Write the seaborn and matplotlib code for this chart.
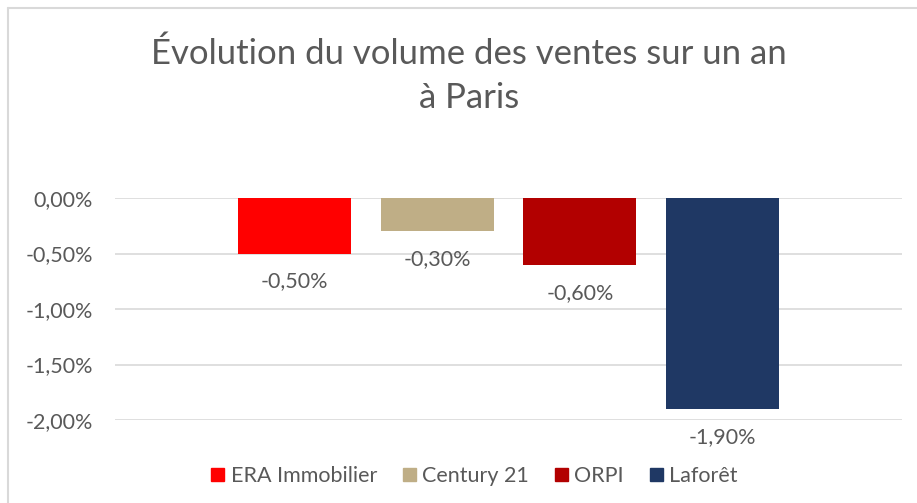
import matplotlib
matplotlib.use("Agg")
import matplotlib.pyplot as plt
import seaborn as sns
import pandas as pd
from matplotlib.ticker import FuncFormatter

# data
agences = ["ERA Immobilier", "Century 21", "ORPI", "Laforêt"]
evolution = [-0.50, -0.30, -0.60, -1.90]
couleurs = ["#FF0000", "#BFAE86", "#B20000", "#1F3864"]
yticks = [0.0, -0.5, -1.0, -1.5, -2.0]
titre = ["Évolution du volume des ventes sur un an", "à Paris"]

df = pd.DataFrame({"agence": agences, "evolution": evolution})

sns.set_theme(style="white")
plt.rcParams["font.family"] = ["Lato", "DejaVu Sans"]
gris = "#595959"

def pct(v):
    if abs(v) < 1e-9:
        v = 0.0
    return f"{v:.2f}%".replace(".", ",")

fig = plt.figure(figsize=(9.17, 5.03), dpi=100)
ax = fig.add_axes([115/917, 1 - 420/503, (902 - 115)/917, (420 - 198)/503])

sns.barplot(data=df, x="agence", y="evolution", hue="agence",
            palette=couleurs, saturation=1, width=0.79, linewidth=0,
            dodge=False, legend=True, ax=ax)

ax.set_xlim(-1.255, 4.255)
ax.set_ylim(-2.0, 0.0)
ax.set_yticks(yticks)
ax.yaxis.set_major_formatter(FuncFormatter(lambda v, p: pct(v)))
ax.set_xticks([])
ax.set_xlabel("")
ax.set_ylabel("")
ax.tick_params(axis="y", length=0, pad=16, labelsize=15.5, labelcolor=gris)
ax.grid(axis="y", color="#D9D9D9", linewidth=1.2)
ax.set_axisbelow(True)
for s in ax.spines.values():
    s.set_visible(False)

for c in ax.containers:
    ax.bar_label(c, fmt=pct, padding=13, fontsize=15.5, color=gris, clip_on=False)

# legende en bas, une ligne
handles = [plt.Rectangle((0, 0), 1, 1, color=c) for c in couleurs]
if ax.legend_ is not None:
    ax.legend_.remove()
fig.legend(handles, agences, loc="center", bbox_to_anchor=(474.5/917, 1 - 476/503),
           ncol=4, frameon=False, fontsize=15.5, labelcolor=gris,
           handlelength=0.6, handleheight=0.6, handletextpad=0.3,
           columnspacing=1.2)

# titre sur deux lignes
fig.text(469/917, 1 - 64/503, titre[0], ha="center", va="baseline",
         fontsize=25, color=gris)
fig.text(469/917, 1 - 108/503, titre[1], ha="center", va="baseline",
         fontsize=25, color=gris)

# bordure du graphique
fig.add_artist(plt.Line2D([8/917, 8/917], [0, 1 - 8/503], transform=fig.transFigure,
                          color="#D9D9D9", linewidth=1.5))
fig.add_artist(plt.Line2D([8/917, 1], [1 - 8/503, 1 - 8/503], transform=fig.transFigure,
                          color="#D9D9D9", linewidth=1.5))

fig.savefig("out.png", dpi=100)
